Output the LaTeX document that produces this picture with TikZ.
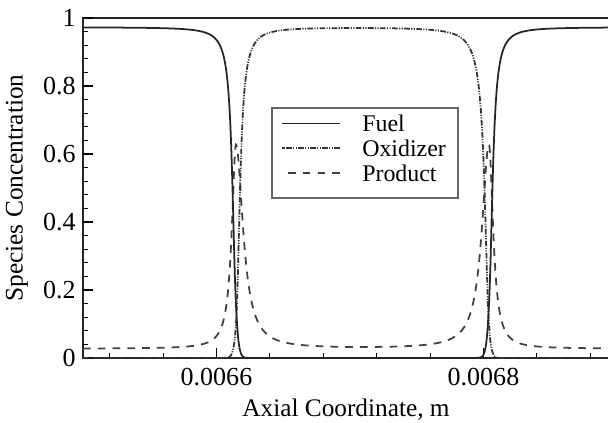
\documentclass[tikz,border=0pt]{standalone}
\usepackage{fontspec}
\setmainfont{Liberation Serif}
\usepackage{tikz}
\usetikzlibrary{positioning}

\begin{document}
\begin{tikzpicture}[x=3.3375cm, y=8.5cm, font=\fontsize{17}{20}\selectfont,
  axisline/.style={line width=1.4pt, black!85},
  ticklab/.style={font=\fontsize{18.5}{22}\selectfont},
  titlelab/.style={font=\fontsize{18}{22}\selectfont},
  fuelline/.style={line width=1.25pt, black!85},
  oxline/.style={line width=1.25pt, black!80, dash pattern=on 4pt off 1pt on 0.8pt off 1pt on 0.8pt off 1pt},
  prodline/.style={line width=1.25pt, black!75, dash pattern=on 5.5pt off 5pt},
  legbox/.style={draw=black!60, line width=0.9pt, fill=white, minimum width=4.65cm, minimum height=2.25cm},
  legtext/.style={anchor=west, inner sep=0pt},
  declare function={
    lor(\d,\w)=1/(1+min(abs(\d/\w),100)^2);
    stp(\z)=1/(1+exp(max(min(\z,9),-9)));
    pk(\d)=(\d>0)*lor(\d,0.0637)+(\d<=0)*lor(\d,0.0375);
    prodc(\x)=0.027+0.6*(pk(\x-1.146)+pk(3.041-\x));
    fuelc(\x)=(stp((\x-1.146+0.0037)/0.0112)+stp((3.041-\x+0.0037)/0.0112))*(1-prodc(\x));
    oxidc(\x)=stp((1.146+0.0112-\x)/0.0112)*stp((\x-3.041+0.0112)/0.0112)*(0.973-0.6*lor(\x-1.146,0.0412)-0.6*lor(3.041-\x,0.0487));
  }]
  \useasboundingbox (-0.6217,-0.1912) rectangle (3.9326,1.0529);

  % frame
  \draw[axisline] (3.94,1) -- (0,1) -- (0,0) -- (3.94,0);

  % y ticks
  \foreach \v in {0.04,0.08,...,0.97} \draw[line width=0.8pt] (0,\v) -- ++(3.6pt,0);
  \foreach \v/\t in {0/0,0.2/0.2,0.4/0.4,0.6/0.6,0.8/0.8,1/1} {
    \draw[line width=1pt] (0,\v) -- ++(7.1pt,0);
    \node[ticklab, anchor=east, inner sep=0pt] (ylab\t) at ([xshift=-5pt]0,\v) {\t};
  }

  % x ticks
  \foreach \u in {0.2,0.6,...,3.9} \draw[line width=0.8pt] (\u,0) -- ++(0,3.6pt);
  \foreach \u/\t in {1/0.0066,3/0.0068} {
    \draw[line width=1pt] (\u,0) -- ++(0,7.1pt);
    \node[ticklab] (xlab\t) at ([yshift=-13.5pt]\u,0) {\t};
  }

  % axis titles
  \node[titlelab] (xtitle) at ([yshift=-37pt]1.97,0) {Axial Coordinate, m};
  \node[titlelab, rotate=90] (ytitle) at (-0.494,0.5) {Species Concentration};

  % curves
  \draw[prodline] plot[domain=0:3.94, samples=1000] (\x,{prodc(\x)});
  \draw[oxline] plot[domain=0:3.94, samples=1000] (\x,{oxidc(\x)});
  \draw[fuelline] plot[domain=0:3.94, samples=1000] (\x,{fuelc(\x)});

  % legend
  \node[legbox] (legend) at (2.1125,0.603) {};
  \node[legtext] (fuellab) at (2.09,0.690) {Fuel};
  \node[legtext] (oxlab) at (2.09,0.618) {Oxidizer};
  \node[legtext] (prodlab) at (2.09,0.544) {Product};
  \draw[fuelline] ([xshift=-0.55cm]fuellab.west) -- ++(-1.45cm,0);
  \draw[oxline] ([xshift=-0.55cm]oxlab.west) -- ++(-1.45cm,0);
  \draw[prodline] ([xshift=-0.55cm]prodlab.west) -- ++(-1.45cm,0);
\end{tikzpicture}
\end{document}
